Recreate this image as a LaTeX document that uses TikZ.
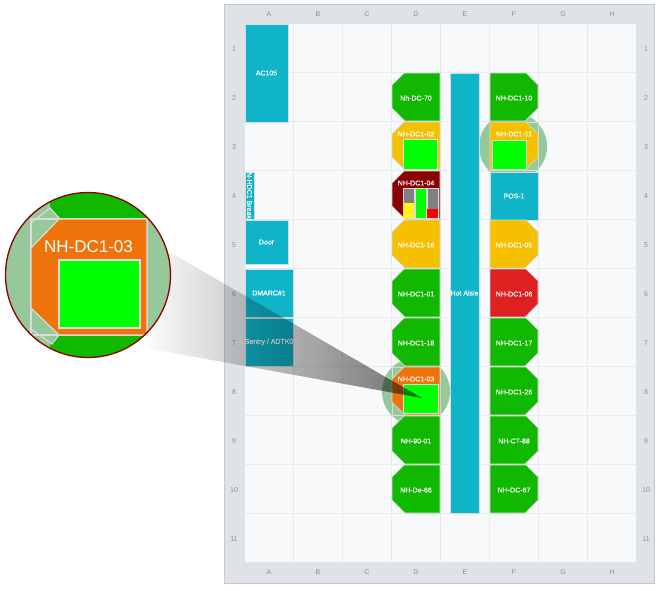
\documentclass[tikz,border=0pt]{standalone}
\usepackage{fontspec}
\setmainfont{Liberation Sans}
\newfontfamily\racktext[FakeBold=0.35]{Liberation Sans}
\usetikzlibrary{fadings}
\definecolor{panelbg}{HTML}{DFE2E6}
\definecolor{panelln}{HTML}{C6C8CA}
\definecolor{cellbg}{HTML}{F8F9FB}
\definecolor{gridln}{HTML}{E8EAEE}
\definecolor{axistx}{HTML}{8A9099}
\definecolor{teal1}{HTML}{0FB4C9}
\definecolor{rgreen}{HTML}{10B800}
\definecolor{ryellow}{HTML}{F5C000}
\definecolor{rdark}{HTML}{8B0000}
\definecolor{rred}{HTML}{DE2020}
\definecolor{rorange}{HTML}{F0720A}
\definecolor{lime1}{HTML}{00FF00}
\definecolor{halo}{HTML}{95C89A}
\definecolor{edge1}{HTML}{D8DCDC}
\tikzfading[name=shadowfade,left color=transparent!100,right color=transparent!45]
\tikzset{
  axis label/.style={text=axistx,font=\fontsize{7}{8}\selectfont,inner sep=0pt},
  rack label/.style={text=white,font=\racktext\fontsize{7}{8}\selectfont,inner sep=0pt},
  rack edge/.style={draw=edge1,line width=0.7pt},
  tealbox/.style={fill=teal1,draw=edge1,line width=0.6pt},
  limebox/.style={fill=lime1,draw=edge1,line width=0.8pt},
}
% left-side rack: corners cut on the left.  #1 name, #2 top y, #3 colour, #4 text, #5 text y offset
\newcommand\rackD[5]{%
  \path[rack edge,fill=#3] (404,#2) -- (440,#2) -- (440,#2+48) -- (405,#2+48) -- (392,#2+35) -- (392,#2+12) -- cycle;
  \node[rack label] (#1) at (416,#2+#5) {#4};}
\newcommand\rackF[5]{%
  \path[rack edge,fill=#3] (490,#2) -- (526,#2) -- (538,#2+12) -- (538,#2+35) -- (525,#2+48) -- (490,#2+48) -- cycle;
  \node[rack label] (#1) at (514,#2+#5) {#4};}
\begin{document}
\begin{tikzpicture}[x=1pt,y=-1pt]
\useasboundingbox (0,0) rectangle (660,590);
\fill[white] (0,0) rectangle (660,590);
% panel and grid
\path[fill=panelbg,draw=panelln,line width=1pt] (224,4) rectangle (654,583);
\fill[cellbg] (245,24) rectangle (636,562);
\foreach \c in {294,343,392,441,490,539,588}
  \draw[gridln,line width=1pt] (\c-0.5,24) -- (\c-0.5,562);
\foreach \r in {73,122,171,220,269,318,367,416,465,514}
  \draw[gridln,line width=1pt] (245,\r-0.5) -- (636,\r-0.5);
% axis labels
\foreach \t [count=\i from 0] in {A,B,C,D,E,F,G,H}{
  \node[axis label] (top\t) at (269+49*\i,14) {\t};
  \node[axis label] (bot\t) at (269+49*\i,572) {\t};
}
\foreach \i in {1,...,11}{
  \node[axis label] (lft\i) at (234,49*\i) {\i};
  \node[axis label] (rgt\i) at (646,49*\i) {\i};
}
% halos
\fill[halo] (416,391.5) circle[radius=34];
\fill[halo] (513,146.5) circle[radius=34];
% teal boxes
\path[tealbox] (245,24) rectangle (288,122);
\node[rack label] (ac) at (266.5,73) {AC105};
\path[tealbox] (245,172) rectangle (254,219);
\begin{scope}
  \clip (245,172) rectangle (254,219);
  \node[rack label,rotate=-90,anchor=west] (brk) at (249.5,172) {N-HDC1 Breaker};
\end{scope}
\path[tealbox] (245,220) rectangle (288,264);
\node[rack label] (door) at (266.5,242) {Door};
\path[tealbox] (245,269) rectangle (293,317);
\node[rack label] (dmarc) at (269,293) {DMARC\#1};
\path[tealbox] (245,318) rectangle (293,366);
\begin{scope}
  \clip (245,318) rectangle (293,366);
  \node[rack label] (sentry) at (269,342) {Sentry / ADTK0};
\end{scope}
\path[tealbox] (450,73) rectangle (479,513);
\node[rack label] (aisle) at (464.5,293) {Hot Aisle};
\path[tealbox] (490,172) rectangle (538,220);
\node[rack label] (pos) at (514,196) {POS-1};
% column D
\rackD{d70}{73}{rgreen}{Nh-DC-70}{25}
\rackD{d02}{122}{ryellow}{NH-DC1-02}{12}
\rackD{d04}{171}{rdark}{NH-DC1-04}{12}
\rackD{d16}{220}{ryellow}{NH-DC1-16}{25}
\rackD{d01}{269}{rgreen}{NH-DC1-01}{25}
\rackD{d18}{318}{rgreen}{NH-DC1-18}{25}
\draw[rack edge] (392,367) rectangle (440,415);
\rackD{d03}{367}{rorange}{NH-DC1-03}{12}
\rackD{d90}{416}{rgreen}{NH-90-01}{25}
\rackD{d66}{465}{rgreen}{NH-De-66}{25}
% column F
\rackF{f10}{73}{rgreen}{NH-DC1-10}{25}
\draw[rack edge] (490,122) rectangle (538,170);
\rackF{f11}{122}{ryellow}{NH-DC1-11}{12}
\rackF{f05}{220}{ryellow}{NH-DC1-05}{25}
\rackF{f06}{269}{rred}{NH-DC1-06}{25}
\rackF{f17}{318}{rgreen}{NH-DC1-17}{25}
\rackF{f26}{367}{rgreen}{NH-DC1-26}{25}
\rackF{f88}{416}{rgreen}{NH-CT-88}{25}
\rackF{f67}{465}{rgreen}{NH-DC-67}{25}
% lime contents
\path[limebox] (403,139) rectangle (437,169);
\path[limebox] (492,140) rectangle (526,169);
\path[limebox] (403,384) rectangle (438,413);
% bars of NH-DC1-04
\path[fill=gray,draw=edge1,line width=0.6pt] (403,188) rectangle (414,218);
\fill[yellow!90!white] (403.4,203) rectangle (413.6,217.6);
\path[fill=lime1,draw=edge1,line width=0.6pt] (415,188) rectangle (426,218);
\path[fill=gray,draw=edge1,line width=0.6pt] (427,188) rectangle (438,218);
\fill[red] (427.4,209) rectangle (437.6,217.6);
% magnifier shadow
\coordinate (shA) at (140,235);
\coordinate (shB) at (422,398);
\coordinate (shC) at (140,347);
\fill[black,path fading=shadowfade] (shA) -- (shB) -- (shC) -- cycle;
% magnifier
\begin{scope}
  \clip (88,275) circle[radius=82.5];
  \fill[halo] (88,275) circle[radius=82.5];
  \fill[rgreen] (50,190) -- (147,190) -- (147,219) -- (60,219) -- (50,208) -- cycle;
  \fill[rgreen] (50,345) -- (147,345) -- (147,360) -- (50,360) -- cycle;
  \fill[rgreen] (59,335) -- (147,335) -- (147,345) -- (50,345) -- cycle;
  \draw[edge1,line width=1.2pt] (31,223) -- (50,208) -- (60,219);
  \draw[edge1,line width=1.2pt] (31,329) -- (52,344) -- (59,335);
  \path[draw=edge1,line width=1.2pt] (31,219) rectangle (147,335);
  \path[fill=rorange,draw=edge1,line width=1.2pt] (59,219) -- (147,219) -- (147,335) -- (59,335) -- (31,308) -- (31,248) -- cycle;
  \path[fill=lime1,draw=edge1,line width=1.2pt] (59,260) rectangle (140,328);
  \node[text=white,font=\fontsize{17}{20}\selectfont,inner sep=0pt] (big03) at (88.5,247) {NH-DC1-03};
\end{scope}
\draw[rdark,line width=1.3pt] (88,275) circle[radius=82.5];
\end{tikzpicture}
\end{document}
